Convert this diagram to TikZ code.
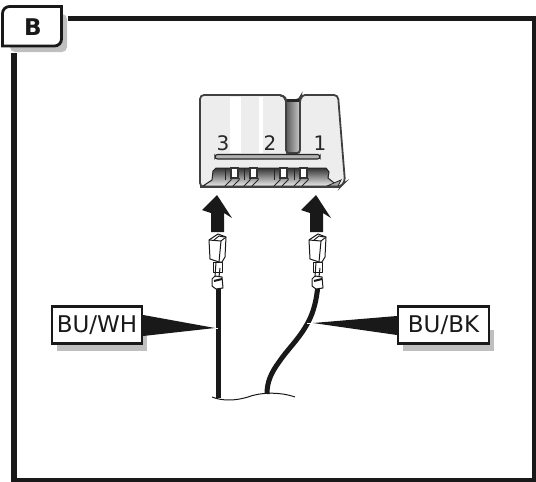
\documentclass[tikz,border=0pt]{standalone}
\usepackage{fontspec}
\setmainfont{DejaVu Sans}
\begin{document}
\begin{tikzpicture}[x=1pt,y=-1pt]
  \tikzset{FrameStyle/.style = {
    draw       = black!90,
    line width = 5.5pt
    }
  }
  \tikzset{TabStyle/.style = {
    draw       = black!90,
    fill       = white,
    line width = 2.8pt
    }
  }
  \tikzset{TabText/.style = {
    text       = black!90,
    inner sep  = 0pt,
    font       = \bfseries\fontsize{23pt}{23pt}\selectfont
    }
  }
  \tikzset{LabelStyle/.style = {
    shape         = rectangle,
    draw          = black!90,
    fill          = white,
    line width    = 2.4pt,
    text          = black!90,
    font          = \fontsize{23pt}{23pt}\selectfont,
    inner sep     = 0pt,
    minimum height= 37pt
    }
  }
  \tikzset{WireStyle/.style = {
    draw       = black!90,
    line width = 5pt
    }
  }
  \tikzset{PinStyle/.style = {
    draw       = black!90,
    fill       = white,
    line width = 1pt,
    line join  = round
    }
  }
  \tikzset{ShadowStyle/.style = {
    fill = black!25
    }
  }
  \tikzset{BodyLine/.style = {
    draw       = black!75,
    line width = 1.8pt
    }
  }
  \tikzset{PinNumber/.style = {
    text      = black!85,
    font      = \fontsize{20pt}{20pt}\selectfont,
    inner sep = 0pt
    }
  }
  \useasboundingbox (0,0) rectangle (536,482);

  % frame
  \fill[ShadowStyle, rounded corners=5pt] (10,14) rectangle (67,52);
  \draw[FrameStyle] (68,18.5) -- (535,18.5) -- (535,480.5) -- (14,480.5) -- (14,53);
  \path[TabStyle] (2.5,46) -- (2.5,15) [rounded corners=7pt] -- (2.5,6.5) -- (30,6.5)
    [sharp corners] -- (61.5,6.5) [rounded corners=7pt] -- (61.5,46) -- (30,46) [sharp corners] -- cycle;
  \node[TabText](TabB) at (33,27) {B};

  % connector body
  \path[fill=black!7, BodyLine, rounded corners=4pt]
    (200,95) -- (284,95) -- (286,103) -- (286,100) -- (300,100) -- (301,95) -- (338,95)
    -- (345,182) -- (340,187) -- (200,187) -- cycle;
  \fill[white] (230,97) rectangle (241,153);
  \fill[white] (259,97) rectangle (263,153);
  \shade[left color=black!65, right color=black!20] (286,101) rectangle (300,153);
  \fill[black!85] (286,99) rectangle (300,102);
  \draw[BodyLine, rounded corners=3pt] (280,95.5) -- (286,97) -- (286,153) -- (300,153) -- (300,99) -- (303,95.5);
  \path[fill=black!30, draw=black!85, line width=1.1pt, rounded corners=2.5pt]
    (215,154.5) rectangle (320,159);
  \node[PinNumber](Num3) at (223,143) {3};
  \node[PinNumber](Num2) at (270,143) {2};
  \node[PinNumber](Num1) at (320,143) {1};

  % cavities
  \shade[top color=black!80, bottom color=black!8, draw=black!85, line width=1pt]
    (203,186) -- (212,180) -- (213,171) -- (216,168) -- (326,168) -- (329,172) -- (328,178) -- (338,186) -- cycle;
  \foreach \sx in {231,250,280,300}{
    \path[fill=white, draw=black!80, line width=1.1pt] (\sx,168) rectangle (\sx+7,178);
    \draw[black!85, line width=1pt] (\sx-6,168) -- (\sx-6,180);
    \draw[black!85, line width=1pt] (\sx-6,186) -- (\sx,180) -- (\sx,178);
    \draw[black!85, line width=1pt] (\sx+2,186) -- (\sx+8,180) -- (\sx+8,178);
  }
  \path[fill=black!35, draw=black!85, line width=.8pt] (327,186) -- (341,180) -- (338,186) -- cycle;
  \draw[BodyLine] (200,187) -- (340,187);

  % arrows to the connector
  \foreach \ax/\an in {217/ArrowL, 316/ArrowR}{
    \coordinate (\an) at (\ax,195);
    \fill[black!90] (\an) -- ++(15,23) -- ++(-8,-5) -- ++(0,19) -- ++(-13,0) -- ++(0,-19) -- ++(-9,-3) -- cycle;
  }

  % wires
  \coordinate (WireLtop) at (218.5,285);
  \coordinate (WireLend) at (218.5,398);
  \coordinate (WireRtop) at (318,285);
  \coordinate (WireRend) at (267,394);
  \draw[WireStyle] (WireLtop) -- (WireLend);
  \draw[WireStyle] (WireRtop) .. controls (316,305) and (312,316) .. (306,326)
    .. controls (298,340) and (287,350) .. (279,362) .. controls (271,373) and (267,382) .. (WireRend);

  % terminals
  \foreach \tx in {0,100}{
    \begin{scope}[xshift=\tx pt]
      \path[PinStyle] (213,262) rectangle (222,272);
      \path[PinStyle] (209,240) -- (218,234) -- (226,237) -- (225,257) -- (222,262) -- (219,262) -- (210,259) -- cycle;
      \draw[black!90, line width=1pt] (209,240) -- (221,241) -- (226,237);
      \draw[black!90, line width=1pt] (221,241) -- (219,262);
      \draw[black!90, line width=1pt] (214,240) -- (219,236) -- (224,237);
      \path[PinStyle] (212,279) -- (215,276) -- (222,277) -- (223,288) -- (216,289) -- (212,286) -- cycle;
      \draw[black!90, line width=2pt] (214,281) -- (222,279);
      \draw[black!90, line width=1pt] (216,262) -- (215,277);
      \draw[black!90, line width=1pt] (220,268) -- (219,277);
    \end{scope}
  }

  % ground line
  \draw[black!90, line width=1pt] (212,397) .. controls (222,401) and (235,401) .. (248,397)
    .. controls (258,393) and (278,391) .. (295,397);

  % labels
  \fill[ShadowStyle] (57,330) rectangle (147,351);
  \fill[ShadowStyle] (403,330) rectangle (494,351);
  \node[LabelStyle, minimum width=90pt](LabelWH) at (97,325) {BU/WH};
  \node[LabelStyle, minimum width=91pt](LabelBK) at (443.5,325) {BU/BK};
  \coordinate (TipWH) at (215,328);
  \coordinate (TipBK) at (313,323);
  \fill[black!90] (TipWH) -- (LabelWH.east |- 0,315) -- (LabelWH.east |- 0,336) -- cycle;
  \fill[black!90] (TipBK) -- (LabelBK.west |- 0,316) -- (LabelBK.west |- 0,335) -- cycle;
  \draw[white, line width=1pt] (215,328) -- (218,328);
  \draw[white, line width=1pt] (307,323) -- (312,323);
\end{tikzpicture}
\end{document}
